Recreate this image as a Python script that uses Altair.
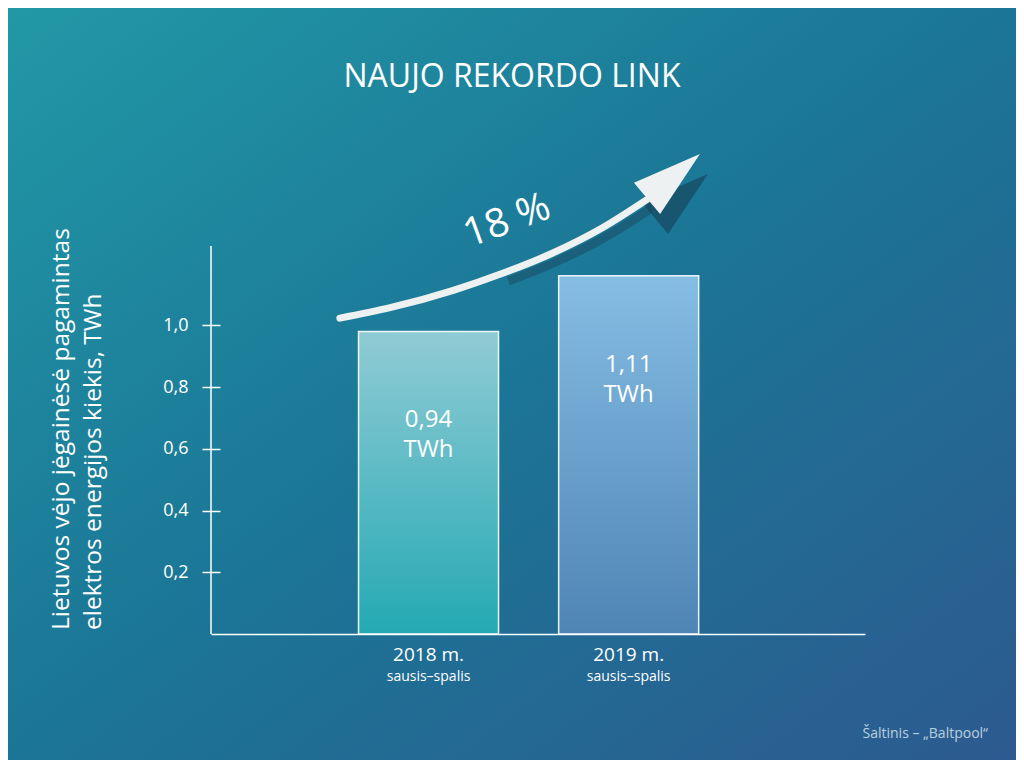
import altair as alt
import pandas as pd

# ---------------- data ----------------
categories = ["2018 m.", "2019 m."]
periods = ["sausis–spalis", "sausis–spalis"]
bar_heights = [0.98, 1.16]            # bar tops as drawn (TWh)
value_labels = ["0,94\nTWh", "1,11\nTWh"]
y_ticks = [0.2, 0.4, 0.6, 0.8, 1.0]

# growth arrow path (x in bar-index units, y in TWh units)
arrow_x = [-0.443, -0.197, 0.128, 0.374, 0.621, 0.867, 1.089]
arrow_y = [1.023, 1.056, 1.114, 1.169, 1.234, 1.315, 1.406]
head_x = [1.217]
head_y = [1.479]

title_text = "NAUJO REKORDO LINK"
growth_text = "18 %"
y_title = "Lietuvos vėjo jėgainėsė pagamintas\nelektros energijos kiekis, TWh"
source_text = "Šaltinis – „Baltpool“"

# ---------------- layout ----------------
W, H = 654, 388
PAD = {"left": 203, "top": 238, "right": 151, "bottom": 126}
FONT = "Open Sans"

bars = pd.DataFrame({
    "idx": list(range(len(categories))),
    "cat": categories,
    "period": periods,
    "h": bar_heights,
    "lab": value_labels,
})
arrow = pd.DataFrame({"ax": arrow_x, "ay": arrow_y})
head = pd.DataFrame({"ax": head_x, "ay": head_y})
one = pd.DataFrame({"k": [0]})

xs = alt.Scale(domain=[-1.062, 2.156], nice=False, zero=False)
ys = alt.Scale(domain=[0, 1.2567], nice=False, zero=True)
x_axis = alt.Axis(labels=False, ticks=False, grid=False, domainColor="white",
                  domainWidth=1.5, title=None, zindex=1)
y_axis = alt.Axis(values=y_ticks,
                  labelExpr="replace(format(datum.value, '.1f'), '.', ',')",
                  domain=False, grid=False, offset=-9, tickSize=18, tickWidth=1.5,
                  tickColor="white", labelColor="white", labelFontSize=18,
                  labelFont=FONT, labelPadding=14, title=None, zindex=1)


def grad(c0, c1, x1=0, y1=0, x2=0, y2=1):
    return alt.LinearGradient(
        gradient="linear", x1=x1, y1=y1, x2=x2, y2=y2,
        stops=[alt.GradientStop(offset=0, color=c0), alt.GradientStop(offset=1, color=c1)],
    )


bg = alt.Chart(one).mark_rect(
    fill=alt.LinearGradient(
        gradient="linear", x1=0, y1=0, x2=1, y2=1,
        stops=[alt.GradientStop(offset=0, color="#2198a6"),
               alt.GradientStop(offset=0.5, color="#1b7596"),
               alt.GradientStop(offset=1, color="#2d5a90")],
    )
).encode(
    x=alt.value(-PAD["left"]), x2=alt.value(W + PAD["right"]),
    y=alt.value(-PAD["top"]), y2=alt.value(H + PAD["bottom"]),
)

base = alt.Chart(bars)
bar_colors = [("#90cbd5", "#24a9b3"), ("#86bde4", "#4d85b5")]
bar_layers = []
for i, (c0, c1) in enumerate(bar_colors):
    bar_layers.append(
        base.transform_filter(alt.datum.idx == i).mark_bar(
            size=140, fill=grad(c0, c1), stroke="white", strokeWidth=1.5,
            strokeOpacity=0.9,
        ).encode(
            x=alt.X("idx:Q", scale=xs, axis=x_axis),
            y=alt.Y("h:Q", scale=ys, axis=y_axis),
        )
    )

y_line = alt.Chart(one).mark_rule(color="white", strokeWidth=1.5).encode(
    x=alt.value(0), y=alt.value(0), y2=alt.value(H)
)

val_text = base.mark_text(
    font=FONT, fontSize=24, color="white", baseline="alphabetic", align="center",
    lineBreak="\n", lineHeight=30, dy=96,
).encode(x=alt.X("idx:Q", scale=xs, axis=x_axis), y=alt.Y("h:Q", scale=ys, axis=y_axis), text="lab:N")

cat_text = base.mark_text(
    font=FONT, fontSize=19, color="white", baseline="alphabetic", align="center",
).encode(x=alt.X("idx:Q", scale=xs, axis=x_axis), y=alt.value(415), text="cat:N")

per_text = base.mark_text(
    font=FONT, fontSize=14, color="white", baseline="alphabetic", align="center",
).encode(x=alt.X("idx:Q", scale=xs, axis=x_axis), y=alt.value(435), text="period:N")

# arrow shadow
shadow_line = alt.Chart(arrow).transform_filter(alt.datum.ax > 0.3).mark_line(
    color="#17475f", opacity=0.5, strokeWidth=9, interpolate="monotone",
    xOffset=5, yOffset=8,
).encode(
    x=alt.X("ax:Q", scale=xs, axis=x_axis), y=alt.Y("ay:Q", scale=ys, axis=y_axis),
)
head_shape = "M0,-1L0.56,0.9L-0.56,0.9Z"
shadow_head = alt.Chart(head).mark_point(
    shape=head_shape, filled=True, color="#17475f", opacity=0.7, size=5275,
    angle=50, strokeWidth=0, xOffset=8, yOffset=20,
).encode(x=alt.X("ax:Q", scale=xs, axis=x_axis), y=alt.Y("ay:Q", scale=ys, axis=y_axis))

arrow_line = alt.Chart(arrow).mark_line(
    color="#eef1f2", strokeWidth=7, strokeCap="round", interpolate="monotone",
).encode(
    x=alt.X("ax:Q", scale=xs, axis=x_axis), y=alt.Y("ay:Q", scale=ys, axis=y_axis),
)
arrow_head = alt.Chart(head).mark_point(
    shape=head_shape, filled=True, color="#eef1f2", opacity=1, size=5275,
    angle=50, strokeWidth=0,
).encode(x=alt.X("ax:Q", scale=xs, axis=x_axis), y=alt.Y("ay:Q", scale=ys, axis=y_axis))

growth = alt.Chart(one).mark_text(
    text=growth_text, font=FONT, fontSize=40, color="white", angle=340,
    align="center", baseline="middle",
).encode(x=alt.value(296), y=alt.value(-25))

title = alt.Chart(one).mark_text(
    text=title_text, font=FONT, fontSize=32, color="white",
    align="center", baseline="alphabetic",
).encode(x=alt.value(301), y=alt.value(-159))

ytitle = alt.Chart(one).mark_text(
    text=y_title, font=FONT, fontSize=24.5, color="white", angle=270,
    align="left", baseline="alphabetic", lineBreak="\n", lineHeight=32,
).encode(x=alt.value(-142), y=alt.value(384))

source = alt.Chart(one).mark_text(
    text=source_text, font=FONT, fontSize=14, color="#d3e2ec", opacity=0.85,
    align="right", baseline="alphabetic",
).encode(x=alt.value(777), y=alt.value(492))

chart = alt.layer(
    bg, *bar_layers, y_line, val_text, cat_text, per_text,
    shadow_line, shadow_head, arrow_line, arrow_head,
    growth, title, ytitle, source,
).properties(
    width=W, height=H, padding=PAD,
    autosize=alt.AutoSizeParams(type="none"),
    background="#1b7596",
).configure_view(stroke=None)

chart.save("out.html", embed_options={"renderer": "svg", "actions": False})
